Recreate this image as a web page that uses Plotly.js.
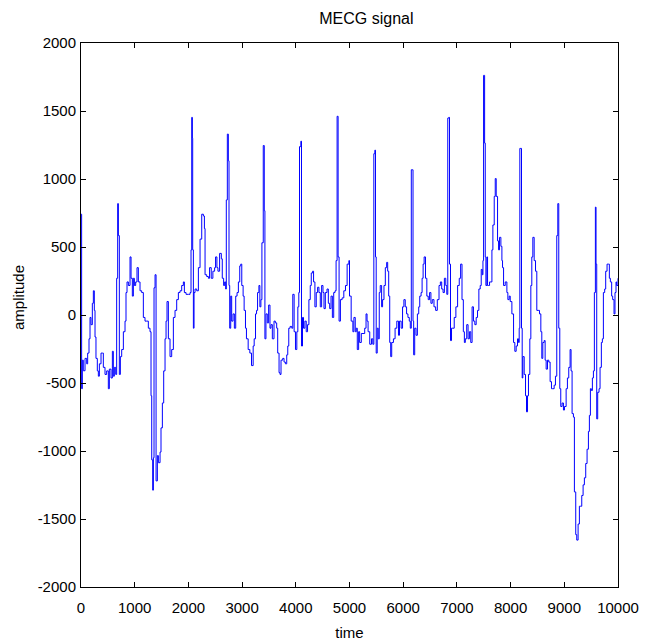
<!DOCTYPE html>
<html>
<head>
<meta charset="utf-8">
<script src="https://cdn.plot.ly/plotly-3.0.1.min.js"></script>
<style>html,body{margin:0;padding:0;background:#fff;}#chart{width:656px;height:643px;}</style>
</head>
<body>
<div id="chart"></div>
<script>
const time = [0,12,25,43,75,106,124,149,168,186,211,230,248,261,279,304,323,342,373,397,416,447,478,509,528,559,584,602,621,646,664,683,696,714,733,758,789,820,838,857,882,913,932,956,975,994,1018,1043,1068,1099,1130,1161,1192,1223,1254,1285,1304,1317,1335,1348,1360,1379,1398,1422,1441,1472,1490,1515,1540,1565,1584,1602,1627,1658,1689,1720,1751,1782,1813,1844,1875,1906,1925,1956,2000,2031,2049,2062,2074,2080,2093,2105,2124,2155,2186,2217,2248,2279,2298,2310,2341,2372,
2394,2425,2456,2488,2506,2531,2550,2581,2613,2631,2656,2675,2694,2706,2725,2744,2756,2769,2788,2806,2831,2856,2881,2906,2931,2956,2975,2994,3019,3038,3063,3081,3113,3144,3175,3206,3225,3250,3269,3288,3313,3331,3350,3369,3394,3413,3425,3444,3469,3494,3519,3538,3563,3594,3619,3644,3663,3688,3706,3725,3756,3781,3806,3831,3850,3869,3894,3925,3944,3969,3994,4019,4038,4056,4069,4094,4106,4125,4144,4169,4194,4219,4244,4269,4288,4313,4331,4356,4381,4406,4431,4456,4481,4506,4525,4550,4581,4606,4631,4656,4681,4706,4731,4750,4769,4788,4806,4831,4863,4894,4925,4956,4988,
5000,5031,5063,5082,5107,5126,5145,5170,5189,5220,5252,5283,5308,5327,5346,5377,5409,5434,5453,5472,5484,5497,5516,5535,5554,5572,5598,5616,5642,5667,5692,5711,5730,5749,5767,5786,5818,5849,5881,5912,5931,5962,5988,6013,6038,6063,6088,6113,6132,6151,6170,6183,6195,6214,6239,6264,6289,6308,6333,6352,6371,6390,6415,6440,6466,6491,6516,6541,6573,6604,6635,6667,6692,6717,6742,6767,6793,6812,6830,6849,6862,6881,6900,6925,6950,6981,7013,7044,7069,7095,7120,7139,7157,7183,7208,7233,7258,7283,7308,7334,7359,7384,7409,7434,7453,7472,7485,
7497,7509,7516,7528,7540,7559,7571,7590,7608,7633,7652,7670,7695,7714,7732,7757,7776,7794,7819,7838,7850,7869,7900,7931,7949,7974,7993,8024,8055,8079,8104,8129,8148,8160,8172,8191,8203,8216,8228,8253,8278,8296,8315,8333,8358,8377,8395,8414,8439,8464,8488,8513,8538,8563,8581,8600,8625,8643,8662,8687,8711,8736,8761,8786,8811,8835,8860,8879,8897,8916,8934,8959,8984,9003,9034,9058,9083,9108,9126,9145,9170,9188,9213,9232,9257,9281,9306,9325,9350,9374,9399,9424,9449,9467,9486,9504,9523,9542,9560,9579,9591,9604,9622,9647,9666,9690,9709,9728,9752,9771,9796,9820,9839,9858,9882,9901,9926,9944,9963,9975,10000];

const amplitude = [741,-542,-332,-410,-319,-359,-280,-175,-18,-71,86,178,34,-162,-319,-411,-450,-359,-280,-280,-385,-437,-411,-542,-398,-463,-267,-450,-385,-437,270,819,584,-437,-306,-254,-123,-45,165,243,217,427,270,139,270,217,243,348,243,178,165,-18,-45,-45,-97,-123,-594,-1065,-1288,-1050,200,296,-1220,-1034,-1086,-1008,-830,-647,-411,-175,-45,99,-175,-306,-254,-18,34,113,165,178,217,243,165,152,152,165,479,1453,1300,479,-97,165,191,178,348,558,741,728,636,296,283,270,
348,270,322,348,427,348,322,453,413,270,217,243,191,846,1330,1134,217,-97,139,-45,8,-97,139,165,243,361,374,217,139,34,-97,-175,-254,-280,-372,-228,-175,8,34,165,217,60,113,531,1246,767,-175,8,-58,73,-97,-71,-175,-45,-58,-97,-280,-424,-437,-332,-319,-346,-359,-293,-228,-97,-84,-97,152,-123,-254,-123,60,165,1238,1278,-228,-18,-97,-45,-123,-71,113,217,309,322,243,60,165,204,165,60,217,165,47,165,191,86,47,139,-18,165,178,400,1461,427,-45,113,126,178,217,374,400,
139,-45,-123,-18,-123,-97,-254,-123,-202,-136,-136,-97,8,-45,-123,-215,-175,-215,1186,1212,427,-280,-97,-175,165,217,60,113,217,348,387,322,139,-202,-306,-202,-175,-97,-45,-149,-45,-97,60,113,60,8,-18,-45,-97,1068,1068,-45,-293,-97,-149,8,60,139,165,270,374,427,270,139,113,165,86,113,60,34,113,217,243,191,165,270,217,152,1448,1453,374,-188,-97,-97,-18,60,217,270,374,113,-123,-202,-175,-71,-175,-123,-202,60,-45,-71,-18,34,191,217,335,296,400,
1762,1762,1264,427,217,427,217,217,243,243,479,662,872,1003,872,545,479,571,505,400,348,217,243,165,113,139,99,8,-202,-267,-228,-175,-202,-97,1225,1225,-97,-463,-306,-437,-594,-712,-594,-437,-175,217,427,571,400,322,34,34,8,-123,-319,-202,-188,-332,-398,-332,-346,-490,-542,-542,-516,-450,584,819,-97,-542,-673,-647,-699,-673,-542,-463,-385,-254,-411,-725,-751,-1301,-1615,-1655,-1537,-1406,-1406,-1327,-1249,-1197,-1092,-987,-856,-738,-542,-555,-463,-411,165,793,374,-764,-568,-542,-385,-202,-175,165,191,322,374,374,270,243,139,113,8,165,243,217,270];

const xTickVals = [0,1000,2000,3000,4000,5000,6000,7000,8000,9000,10000];
const xTickText = ['0','1000','2000','3000','4000','5000','6000','7000','8000','9000','10000'];
const yTickVals = [-2000,-1500,-1000,-500,0,500,1000,1500,2000];
const yTickText = ['-2000','-1500','-1000','-500','0','500','1000','1500','2000'];

const FONT = '"Liberation Sans", Arial, sans-serif';

const trace = {
  x: time, y: amplitude, type: 'scatter', mode: 'lines',
  line: {color: '#0000ff', width: 1, shape: 'hv'}, hoverinfo: 'skip'
};

const axisCommon = {
  showline: true, linecolor: '#000', linewidth: 1, mirror: 'ticks',
  ticks: 'inside', ticklen: 5, tickcolor: '#000', tickwidth: 1,
  showgrid: false, zeroline: false,
  tickfont: {family: FONT, size: 15, color: '#000'}
};

const layout = {
  width: 656, height: 643,
  margin: {l: 81, r: 38, t: 43, b: 56, pad: 0},
  paper_bgcolor: '#fff', plot_bgcolor: '#fff',
  showlegend: false,
  title: {text: 'MECG signal', font: {family: FONT, size: 16, color: '#000'},
          x: 0.5315, xanchor: 'center', xref: 'paper', y: 1 - 18/643, yanchor: 'middle', yref: 'container'},
  xaxis: Object.assign({}, axisCommon, {
    range: [0, 10000], tickmode: 'array', tickvals: xTickVals, ticktext: xTickText,
    ticklabelstandoff: 7,
    title: {text: 'time', font: {family: FONT, size: 15, color: '#000'}, standoff: 12}
  }),
  yaxis: Object.assign({}, axisCommon, {
    range: [-2000, 2000], tickmode: 'array', tickvals: yTickVals, ticktext: yTickText,
    ticklabelstandoff: 1
  }),
  annotations: [{
    text: 'amplitude', textangle: -90, showarrow: false,
    xref: 'paper', yref: 'paper', x: (18 - 81) / 537, y: (587 - 298) / 544,
    xanchor: 'center', yanchor: 'middle',
    font: {family: FONT, size: 15, color: '#000'}
  }]
};

Plotly.newPlot('chart', [trace], layout, {staticPlot: true, displayModeBar: false});
</script>
</body>
</html>
